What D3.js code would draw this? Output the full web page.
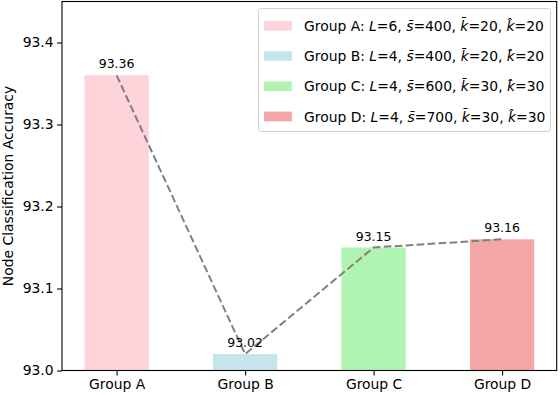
<!DOCTYPE html>
<html>
<head>
<meta charset="utf-8">
<script src="https://cdn.jsdelivr.net/npm/d3@7"></script>
<style>
  body { margin: 0; background: #fff; }
  text { font-family: "DejaVu Sans", sans-serif; fill: #000; }
</style>
</head>
<body>
<svg id="chart"></svg>
<script>
const groups = ['Group A', 'Group B', 'Group C', 'Group D'];
const accuracy = [93.36, 93.02, 93.15, 93.16];
const layerL = [6, 4, 4, 4];
const sBar = [400, 400, 600, 700];
const kBar = [20, 20, 30, 30];
const kHat = [20, 20, 30, 30];
const barColors = ['pink', 'lightblue', 'lightgreen', 'lightcoral'];
const yTicks = [93.0, 93.1, 93.2, 93.3, 93.4];

const w = 560;
const h = 395;
const padL = 62, padR = 556.7, padT = 1.5, padB = 370.5;

const svg = d3.select('#chart').attr('width', w).attr('height', h);

const xScale = d3.scaleLinear().domain([-0.425, 3.425]).range([padL, padR]);
const yScale = d3.scaleLinear().domain([93.0, 93.45]).range([padB, padT]);
const barW = xScale(0.5) - xScale(0);

// bars
svg.selectAll('rect.bar')
  .data(accuracy)
  .enter()
  .append('rect')
  .attr('class', 'bar')
  .attr('x', (d, i) => xScale(i) - barW / 2)
  .attr('y', d => yScale(d))
  .attr('width', barW)
  .attr('height', d => yScale(93.0) - yScale(d))
  .attr('fill', (d, i) => barColors[i])
  .attr('fill-opacity', 0.7);

// dashed trend line
const line = d3.line().x((d, i) => xScale(i)).y(d => yScale(d));
svg.append('path')
  .attr('d', line(accuracy))
  .attr('fill', 'none')
  .attr('stroke', 'gray')
  .attr('stroke-width', 2)
  .attr('stroke-dasharray', '7.7,3.3');

// value labels
svg.selectAll('text.val')
  .data(accuracy)
  .enter()
  .append('text')
  .attr('class', 'val')
  .attr('x', (d, i) => xScale(i))
  .attr('y', d => yScale(d) - 7)
  .attr('text-anchor', 'middle')
  .attr('font-size', 12.5)
  .text(d => d.toFixed(2));

// axes
const xAxis = d3.axisBottom(xScale)
  .tickValues([0, 1, 2, 3])
  .tickFormat(i => groups[i])
  .tickSize(4.9)
  .tickPadding(3.5)
  .tickSizeOuter(0);
const yAxis = d3.axisLeft(yScale)
  .tickValues(yTicks)
  .tickFormat(d3.format('.1f'))
  .tickSize(4.9)
  .tickPadding(3.5)
  .tickSizeOuter(0);

const gx = svg.append('g')
  .attr('transform', 'translate(0,' + padB + ')')
  .call(xAxis);
const gy = svg.append('g')
  .attr('transform', 'translate(' + padL + ',0)')
  .call(yAxis);
[gx, gy].forEach(g => {
  g.selectAll('text').attr('font-size', 13.9).attr('font-family', '"DejaVu Sans", sans-serif').attr('fill', '#000');
  g.selectAll('line').attr('stroke', '#000').attr('stroke-width', 1.1);
  g.select('.domain').remove();
});

// frame
svg.append('rect')
  .attr('x', padL).attr('y', padT)
  .attr('width', padR - padL).attr('height', padB - padT)
  .attr('fill', 'none')
  .attr('stroke', '#000')
  .attr('stroke-width', 1.1);

// y label
svg.append('text')
  .attr('transform', 'translate(13,' + ((padT + padB) / 2) + ') rotate(-90)')
  .attr('text-anchor', 'middle')
  .attr('font-size', 13.9)
  .text('Node Classification Accuracy');

// legend
const legend = svg.append('g').attr('id', 'legend');
legend.append('rect')
  .attr('x', 258.5).attr('y', 8.5)
  .attr('width', 292).attr('height', 123)
  .attr('rx', 3)
  .attr('fill', '#fff').attr('fill-opacity', 0.8)
  .attr('stroke', '#d0d0d0').attr('stroke-width', 1);

for (let i = 0; i < groups.length; i++) {
  const cy = 26 + i * 30.2;
  legend.append('rect')
    .attr('x', 264).attr('y', cy - 5)
    .attr('width', 27.8).attr('height', 9.7)
    .attr('fill', barColors[i])
    .attr('fill-opacity', 0.7);
  const t = legend.append('text')
    .attr('x', 304).attr('y', cy + 5)
    .attr('font-size', 13.9);
  t.append('tspan').text(groups[i] + ': ');
  t.append('tspan').attr('font-style', 'italic').text('L');
  t.append('tspan').text('=' + layerL[i] + ', ');
  t.append('tspan').attr('font-style', 'italic').text('s\u0304');
  t.append('tspan').text('=' + sBar[i] + ', ');
  t.append('tspan').attr('font-style', 'italic').text('k\u0304');
  t.append('tspan').text('=' + kBar[i] + ', ');
  t.append('tspan').attr('font-style', 'italic').text('k\u0302');
  t.append('tspan').text('=' + kHat[i]);
}
</script>
</body>
</html>
